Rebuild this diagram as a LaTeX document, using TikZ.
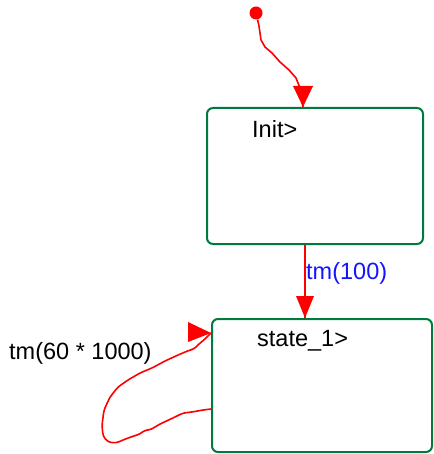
\documentclass[tikz,border=0pt]{standalone}
\usepackage{fontspec}
\setmainfont{Liberation Sans}
\usetikzlibrary{calc}
\definecolor{stgreen}{RGB}{0,122,61}
\definecolor{trred}{RGB}{255,0,0}
\definecolor{lblblue}{RGB}{20,20,255}
\begin{document}
\begin{tikzpicture}[x=1pt,y=-1pt,
  statebox/.style={draw=stgreen,line width=2pt,rounded corners=6pt,inner sep=0pt},
  trans/.style={draw=trred,line width=1.6pt,line join=round},
  tri/.style={fill=trred},
  lbl/.style={anchor=base west,inner sep=0pt,font=\fontsize{23.5}{26}\selectfont}]
\useasboundingbox (0,0) rectangle (433,454);
\node[statebox,minimum width=216pt,minimum height=136pt] (init) at (315,176) {};
\node[statebox,minimum width=220pt,minimum height=133pt] (s1) at (322,385.5) {};
\node[lbl] (initlbl) at (252,138) {Init>};
\node[lbl] (s1lbl) at (257,346) {state\_1>};
\node[lbl,text=lblblue] (tmlbl) at (306,279) {tm(100)};
\node[lbl] (looplbl) at (9,359) {tm(60 * 1000)};
\node[circle,fill=trred,minimum size=13pt,inner sep=0pt] (start) at (256,13) {};
% initial transition
\coordinate (t1) at ([xshift=-12pt]init.north);
\draw[trans] (start) -- (259,26) -- (261,40) -- (265,47) -- (272,53) -- (280,62) -- (289,70) -- (296,78) -- (300,88) -- (t1);
\fill[tri] (t1) -- ++(-10,-21) -- ++(20,0) -- cycle;
% init -> state_1
\coordinate (a2) at ([xshift=-10pt]init.south);
\coordinate (t2) at (a2 |- s1.north);
\draw[trans] (a2) -- (t2);
\fill[tri] (t2) -- ++(-9,-22) -- ++(18,0) -- cycle;
% self loop
\coordinate (ls) at ($(s1.north west)+(0,91)$);
\coordinate (t3) at ($(s1.north west)+(0,15)$);
\draw[trans,rounded corners=3pt] (ls) -- (203,410) -- (192,412) -- (183,413) -- (175,417) -- (160,424) -- (150,430) -- (145,430) -- (140,434) -- (128,438) -- (116,443) -- (108,442) -- (103,436) -- (102,425) -- (104,410) -- (110,397) -- (118,387) -- (128,380) -- (140,373) -- (152,368) -- (165,361) -- (178,355) -- (190,350) -- (194,349) -- (199,344) -- (205,339) -- (t3);
\fill[tri] (t3) -- ++(-23,-11) -- ++(0,20) -- cycle;
\end{tikzpicture}
\end{document}
